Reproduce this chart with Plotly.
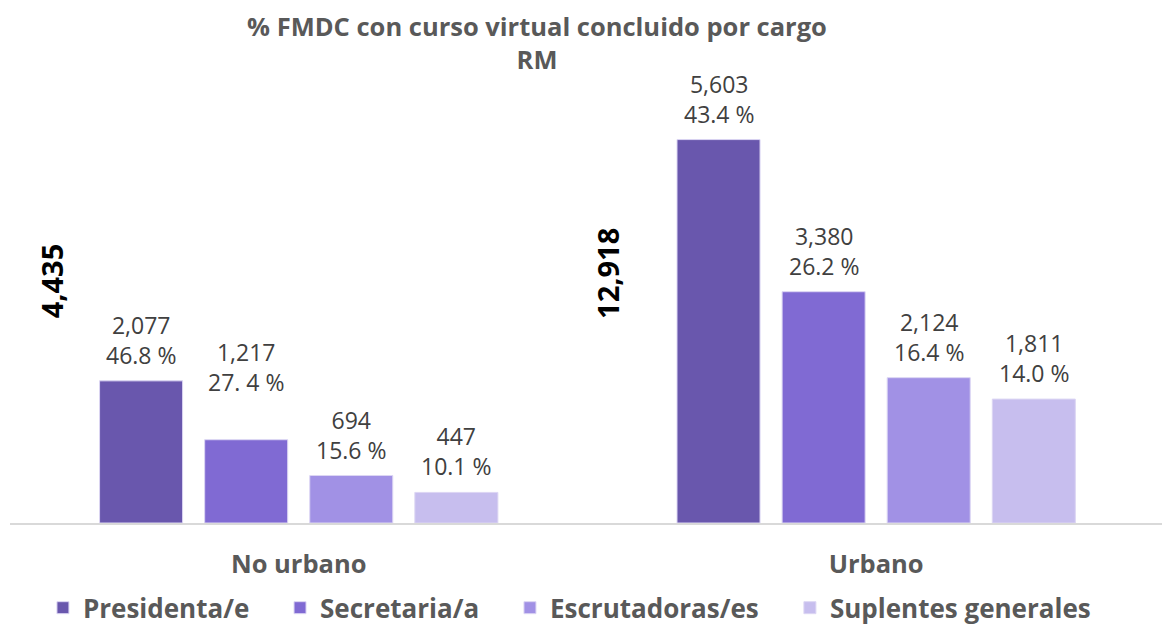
import plotly.graph_objects as go

categories = ["No urbano", "Urbano"]
series_names = ["Presidenta/e", "Secretaria/a", "Escrutadoras/es", "Suplentes generales"]
presidenta = [2077, 5603]
secretaria = [1217, 3380]
escrutadoras = [694, 2124]
suplentes = [447, 1811]
presidenta_pct = ["46.8 %", "43.4 %"]
secretaria_pct = ["27. 4 %", "26.2 %"]
escrutadoras_pct = ["15.6 %", "16.4 %"]
suplentes_pct = ["10.1 %", "14.0 %"]
totals = [4435, 12918]
colors = ["#6957AD", "#806AD3", "#A191E5", "#C7BEEE"]

FONT = "Open Sans"
BARGAP = 0.272
values = [presidenta, secretaria, escrutadoras, suplentes]
pcts = [presidenta_pct, secretaria_pct, escrutadoras_pct, suplentes_pct]
# extra label lift (px) per series / category (one label sits higher in the original)
label_lift = [[0, 0], [32, 0], [0, 0], [0, 0]]
# legend entry positions (paper fraction, style only)
legend_x = [0.0286, 0.2344, 0.434, 0.677]
legend_ids = ["legend", "legend2", "legend3", "legend4"]

fig = go.Figure()
n = len(series_names)
slot = (1 - BARGAP) / n
for k, (name, vals, pc, col) in enumerate(zip(series_names, values, pcts, colors)):
    fig.add_trace(go.Bar(
        name=name, x=categories, y=vals, legend=legend_ids[k],
        marker=dict(color=col, line=dict(color="#DCD6F3", width=1)),
    ))
    for i, (v, p) in enumerate(zip(vals, pc)):
        fig.add_annotation(
            x=i + (k - (n - 1) / 2) * slot, y=v, xref="x", yref="y",
            text=f"{v:,}<br>{p}", showarrow=False, yanchor="bottom",
            yshift=8 + label_lift[k][i],
            font=dict(family=FONT, size=23, color="#404040"))

# total annotations (rotated)
tot_pos = [(-0.428, 3540), (0.535, 3650)]
for t, (xp, yp) in zip(totals, tot_pos):
    fig.add_annotation(x=xp, y=yp, xref="x", yref="y", text=f"<b>{t:,}</b>",
                       textangle=-90, showarrow=False,
                       font=dict(family=FONT, size=29, color="#000000"))

legend_style = dict(orientation="h", xanchor="left", y=-0.177, yanchor="middle",
                    font=dict(family=FONT, size=26, color="#595959", weight="bold"),
                    bgcolor="rgba(0,0,0,0)")
legends = {lid: dict(legend_style, x=lx) for lid, lx in zip(legend_ids, legend_x)}

fig.update_layout(
    width=1162, height=627,
    margin=dict(l=10, r=0, t=44, b=104, autoexpand=False),
    paper_bgcolor="white", plot_bgcolor="white",
    barmode="group", bargap=BARGAP, bargroupgap=0.21,
    title=dict(text="<b>% FMDC con curso virtual concluido por cargo<br>RM</b>",
               x=537 / 1162, xanchor="center", y=0.943, yanchor="top",
               font=dict(family=FONT, size=25.5, color="#595959")),
    showlegend=True,
    xaxis=dict(range=[-0.5, 1.495], showline=True, linecolor="#D9D9D9", linewidth=2,
               ticks="", showgrid=False, ticklabelstandoff=17, automargin=False,
               tickfont=dict(family=FONT, size=25.5, color="#595959"),
               tickvals=categories, ticktext=[f"<b>{c}</b>" for c in categories]),
    yaxis=dict(range=[0, 7000], visible=False, showgrid=False, zeroline=False,
               automargin=False),
    **legends,
)
fig.write_html("out.html", config={"displayModeBar": False},
               post_script="document.body.style.margin='0';")
